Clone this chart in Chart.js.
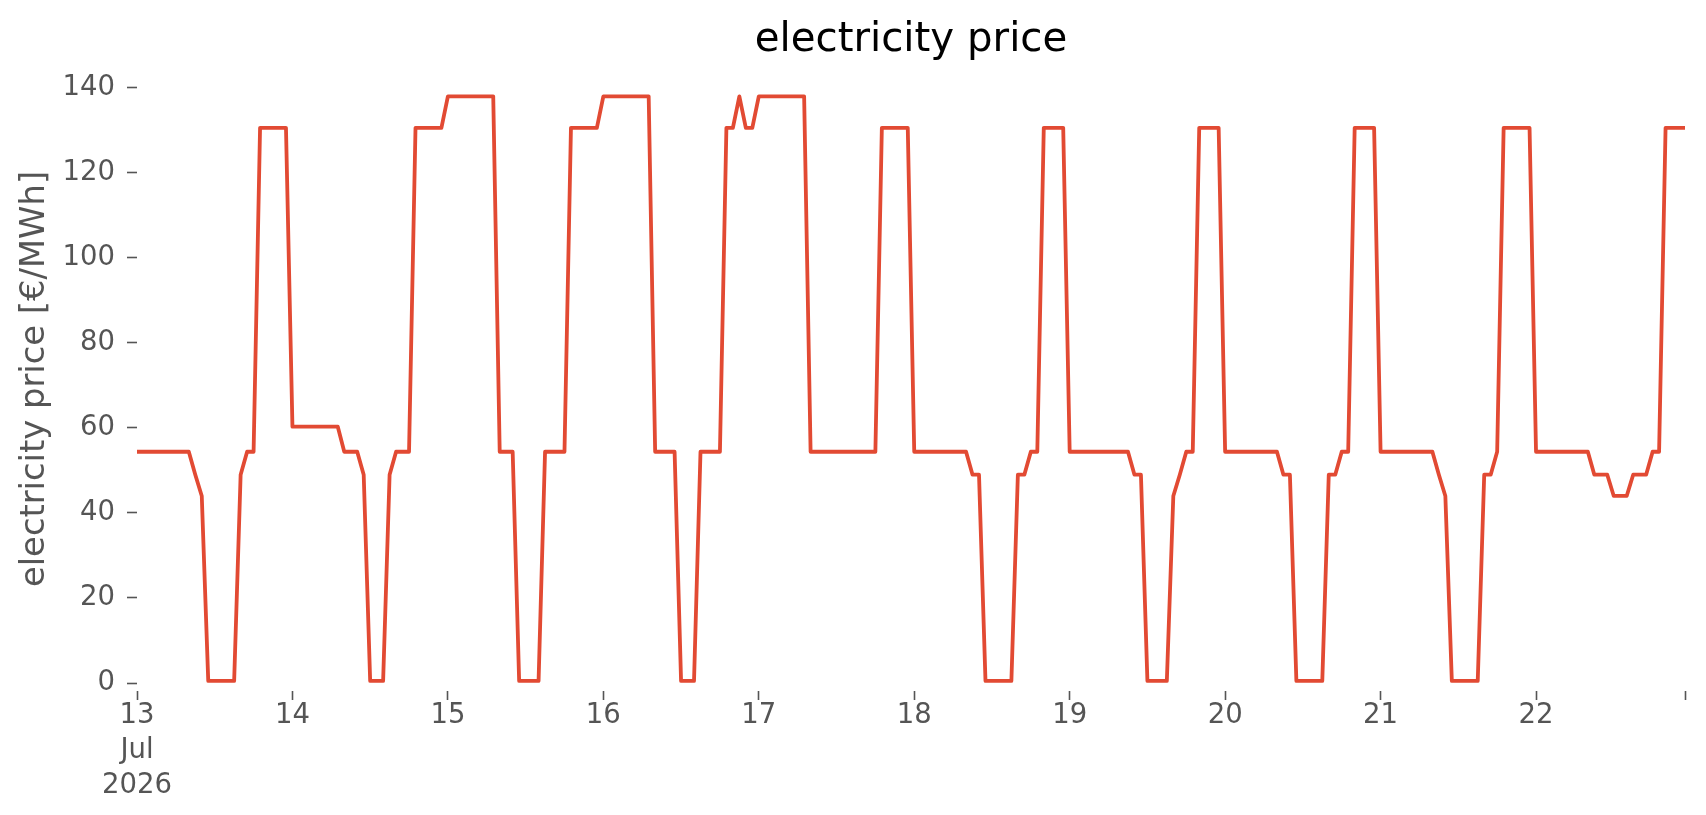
<!DOCTYPE html>
<html>
<head>
<meta charset="utf-8">
<title>electricity price</title>
<script src="https://cdn.jsdelivr.net/npm/chart.js@4.4.1/dist/chart.umd.min.js"></script>
<style>
  html, body { margin: 0; padding: 0; background: #ffffff; }
  #wrap { width: 1706px; height: 815px; }
  canvas { display: block; }
</style>
</head>
<body>
<div id="wrap"><canvas id="priceChart" width="1706" height="815"></canvas></div>
<script>
// hourly prices, 13 Jul 2026 00:00 .. 22 Jul 2026 23:00, one row per day
var prices = [
  54.4, 54.4, 54.4, 54.4, 54.4, 54.4, 54.4, 54.4, 54.4, 49, 44, 0.5, 0.5, 0.5, 0.5, 0.5, 49, 54.4, 54.4, 130.6, 130.6, 130.6, 130.6, 130.6,
  60.3, 60.3, 60.3, 60.3, 60.3, 60.3, 60.3, 60.3, 54.4, 54.4, 54.4, 49, 0.5, 0.5, 0.5, 49, 54.4, 54.4, 54.4, 130.6, 130.6, 130.6, 130.6, 130.6,
  138, 138, 138, 138, 138, 138, 138, 138, 54.4, 54.4, 54.4, 0.5, 0.5, 0.5, 0.5, 54.4, 54.4, 54.4, 54.4, 130.6, 130.6, 130.6, 130.6, 130.6,
  138, 138, 138, 138, 138, 138, 138, 138, 54.4, 54.4, 54.4, 54.4, 0.5, 0.5, 0.5, 54.4, 54.4, 54.4, 54.4, 130.6, 130.6, 138, 130.6, 130.6,
  138, 138, 138, 138, 138, 138, 138, 138, 54.4, 54.4, 54.4, 54.4, 54.4, 54.4, 54.4, 54.4, 54.4, 54.4, 54.4, 130.6, 130.6, 130.6, 130.6, 130.6,
  54.4, 54.4, 54.4, 54.4, 54.4, 54.4, 54.4, 54.4, 54.4, 49, 49, 0.5, 0.5, 0.5, 0.5, 0.5, 49, 49, 54.4, 54.4, 130.6, 130.6, 130.6, 130.6,
  54.4, 54.4, 54.4, 54.4, 54.4, 54.4, 54.4, 54.4, 54.4, 54.4, 49, 49, 0.5, 0.5, 0.5, 0.5, 44, 49, 54.4, 54.4, 130.6, 130.6, 130.6, 130.6,
  54.4, 54.4, 54.4, 54.4, 54.4, 54.4, 54.4, 54.4, 54.4, 49, 49, 0.5, 0.5, 0.5, 0.5, 0.5, 49, 49, 54.4, 54.4, 130.6, 130.6, 130.6, 130.6,
  54.4, 54.4, 54.4, 54.4, 54.4, 54.4, 54.4, 54.4, 54.4, 49, 44, 0.5, 0.5, 0.5, 0.5, 0.5, 49, 49, 54.4, 130.6, 130.6, 130.6, 130.6, 130.6,
  54.4, 54.4, 54.4, 54.4, 54.4, 54.4, 54.4, 54.4, 54.4, 49, 49, 49, 44, 44, 44, 49, 49, 49, 54.4, 54.4, 130.6, 130.6, 130.6, 130.6
];

// x ticks: hours since 13 Jul 00:00 and their labels
var xTickHours = [0, 24, 48, 72, 96, 120, 144, 168, 192, 216, 239];
var xTickLabels = [['13', 'Jul', '2026'], '14', '15', '16', '17', '18', '19', '20', '21', '22', ''];
var yTicks = [0, 20, 40, 60, 80, 100, 120, 140];

var titleText = 'electricity price';
var yLabel = 'electricity price [€/MWh]';
var lineColor = '#E24A33';
var textColor = '#555555';
var fontFamily = "'DejaVu Sans', 'Liberation Sans', sans-serif";

var points = prices.map(function (v, i) { return { x: i, y: v }; });

// title centred over the plot area like matplotlib does
var plotTitle = {
  id: 'plotTitle',
  afterDraw: function (chart) {
    var ctx = chart.ctx;
    var area = chart.chartArea;
    ctx.save();
    ctx.font = '40.3px ' + fontFamily;
    ctx.fillStyle = '#000000';
    ctx.textAlign = 'center';
    ctx.textBaseline = 'alphabetic';
    ctx.fillText(titleText, (area.left + area.right) / 2, 51);
    ctx.restore();
  }
};

var ctx = document.getElementById('priceChart').getContext('2d');
var myChart = new Chart(ctx, {
  type: 'line',
  data: {
    datasets: [{
      label: 'electricity price',
      data: points,
      borderColor: lineColor,
      backgroundColor: lineColor,
      borderWidth: 3.8,
      borderJoinStyle: 'round',
      pointRadius: 0,
      pointHoverRadius: 0,
      tension: 0,
      fill: false
    }]
  },
  options: {
    responsive: false,
    devicePixelRatio: 1,
    animation: false,
    layout: { padding: { top: 67, right: 21, bottom: 0, left: 0 } },
    plugins: {
      legend: { display: false },
      title: { display: false },
      tooltip: { enabled: false }
    },
    scales: {
      x: {
        type: 'linear',
        min: 0,
        max: 239,
        afterBuildTicks: function (scale) {
          scale.ticks = xTickHours.map(function (h) { return { value: h }; });
        },
        afterFit: function (scale) { scale.height = 124; },
        border: { display: false },
        grid: {
          display: true,
          drawOnChartArea: false,
          drawTicks: true,
          tickLength: 9,
          tickWidth: 1.6,
          tickColor: textColor
        },
        ticks: {
          autoSkip: false,
          maxRotation: 0,
          minRotation: 0,
          padding: -2,
          color: textColor,
          font: { family: fontFamily, size: 27.5, lineHeight: 1.28 },
          callback: function (value) {
            var k = xTickHours.indexOf(value);
            return k >= 0 ? xTickLabels[k] : '';
          }
        }
      },
      y: {
        min: -1.88,
        max: 144.9,
        afterBuildTicks: function (scale) {
          scale.ticks = yTicks.map(function (v) { return { value: v }; });
        },
        afterFit: function (scale) { scale.width = 137; },
        border: { display: false },
        grid: {
          display: true,
          drawOnChartArea: false,
          drawTicks: true,
          tickLength: 10,
          tickWidth: 1.6,
          tickColor: textColor
        },
        ticks: {
          padding: 12,
          color: textColor,
          font: { family: fontFamily, size: 27.5 }
        },
        title: {
          display: true,
          text: yLabel,
          color: textColor,
          font: { family: fontFamily, size: 33.8, lineHeight: 1.2 },
          padding: { top: 15, bottom: 0 }
        }
      }
    }
  },
  plugins: [plotTitle]
});
</script>
</body>
</html>
